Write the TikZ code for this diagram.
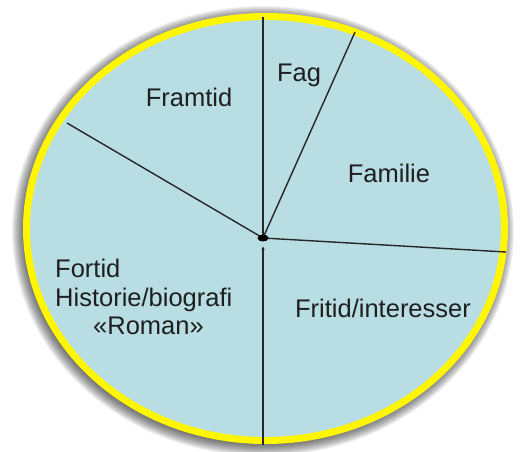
\documentclass[tikz,border=0pt]{standalone}
\usepackage{fontspec}
\setmainfont{Liberation Sans}
\usetikzlibrary{arrows.meta}
\definecolor{lyseblaa}{RGB}{184,221,227}
\definecolor{gul}{RGB}{255,246,0}

\begin{document}
\begin{tikzpicture}[x=1pt,y=-1pt,
  felt/.style={font=\fontsize{25.5}{28.5}\selectfont, text=black!88, inner sep=0pt},
  skille/.style={draw=black!85, line width=1.4pt}]
\useasboundingbox (0,0) rectangle (520,451);
\foreach \i in {1,...,15}
  \fill[black, opacity=0.06] (263,231) ellipse ({236+\i} and {210+\i});
\draw[line width=7pt, draw=gul, fill=lyseblaa] (265.5,228.5) ellipse (239 and 212);
\coordinate (m) at (263,238);
\coordinate (topp) at (263,17);
\coordinate (fagende) at (355,32);
\coordinate (hoyre) at (506,252);
\coordinate (venstre) at (67,123);
\coordinate (bunn) at (263,445);
\draw[skille] (topp) -- (m);
\draw[skille] (m) -- (fagende);
\draw[skille] (m) -- (hoyre);
\draw[skille] (venstre) -- (m);
\draw[skille, -{Latex[length=4pt,width=3.5pt]}] (bunn) -- ([yshift=-8pt]m);
\fill (m) ellipse (5.5 and 3.5);
\node[felt] (framtid) at (189,97) {Framtid};
\node[felt] (fag) at (299,75) {Fag};
\node[felt] (familie) at (389,173) {Familie};
\node[felt, align=left, anchor=west] (fortid) at (55,297) {Fortid\\Historie/biografi\\\hspace*{38pt}«Roman»};
\node[felt] (fritid) at (383,308) {Fritid/interesser};
\end{tikzpicture}
\end{document}
